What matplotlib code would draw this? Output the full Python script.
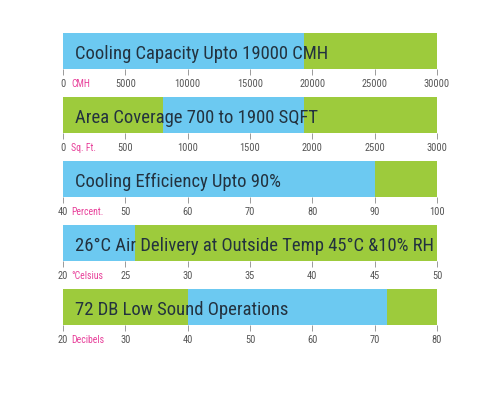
import matplotlib
matplotlib.use("Agg")
import matplotlib.pyplot as plt
from matplotlib import font_manager

# ---- data ----
titles = [
    "Cooling Capacity Upto 19000 CMH",
    "Area Coverage 700 to 1900 SQFT",
    "Cooling Efficiency Upto 90%",
    "26°C Air Delivery at Outside Temp 45°C &10% RH",
    "72 DB Low Sound Operations",
]
units = ["CMH", "Sq. Ft.", "Percent.", "°Celsius", "Decibels"]
axis_min = [0, 0, 40, 20, 20]
axis_max = [30000, 3000, 100, 50, 80]
tick_step = [5000, 500, 10, 5, 10]
# segments per row: (start, end, colour key)
segments = [
    [(0, 19300, "blue"), (19300, 30000, "green")],
    [(0, 800, "green"), (800, 1930, "blue"), (1930, 3000, "green")],
    [(40, 90, "blue"), (90, 100, "green")],
    [(20, 25.8, "blue"), (25.8, 50, "green")],
    [(20, 40, "green"), (40, 72, "blue"), (72, 80, "green")],
]

colors = {"blue": "#6cc9f1", "green": "#9dcb3c"}


def pick_font(cands):
    for c in cands:
        try:
            font_manager.findfont(font_manager.FontProperties(family=c),
                                  fallback_to_default=False)
            return c
        except Exception:
            continue
    return "DejaVu Sans"


narrow = pick_font(["Liberation Sans Narrow", "Arial Narrow",
                    "Roboto Condensed", "DejaVu Sans Condensed",
                    "Open Sans Condensed", "Liberation Sans"])

fig = plt.figure(figsize=(5, 4), dpi=100)
fig.patch.set_facecolor("white")

left_px, right_px = 63, 437
bottoms_px = [69, 133, 197, 261, 325]
bar_h_px = 36

for i in range(5):
    b = bottoms_px[i]
    ax = fig.add_axes([left_px / 500, 1 - b / 400,
                       (right_px - left_px) / 500, bar_h_px / 400])
    for (s, e, c) in segments[i]:
        ax.barh(0.5, e - s, left=s, height=1.0, color=colors[c],
                edgecolor="none")
    ax.set_xlim(axis_min[i], axis_max[i])
    ax.set_ylim(0, 1)
    for sp in ax.spines.values():
        sp.set_visible(False)
    ax.set_yticks([])
    ticks = list(range(axis_min[i], axis_max[i] + 1, tick_step[i]))
    ax.set_xticks(ticks)
    ax.set_xticklabels([str(t) for t in ticks])
    ax.tick_params(axis="x", direction="out", length=4, width=0.7,
                   color="#9a9a9a", pad=3, labelsize=7.5, labelcolor="#555555")
    for lab in ax.get_xticklabels():
        lab.set_fontfamily(narrow)
    ax.text(0.031, 0.29, titles[i], transform=ax.transAxes,
            fontsize=13.4, family=narrow, color="#23323f", va="baseline",
            ha="left")
    ax.text(0.022, -0.42, units[i], transform=ax.transAxes,
            fontsize=7, family=narrow, color="#e8409a", va="center",
            ha="left")

fig.savefig("out.png", dpi=100, facecolor="white")
